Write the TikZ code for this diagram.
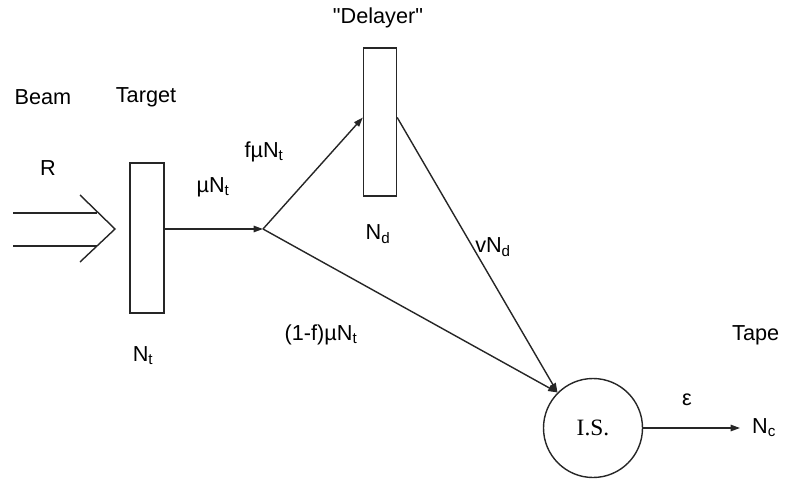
\documentclass[tikz,border=0pt]{standalone}
\usepackage{fontspec}
\setmainfont{Liberation Sans}
\newfontfamily\lblfont{Liberation Sans}
\newfontfamily\isfont{Liberation Serif}
\usepackage{tikz}
\usetikzlibrary{calc, arrows.meta, positioning}
\definecolor{lngray}{HTML}{262626}

\begin{document}
\begin{tikzpicture}[x=0.03cm, y=-0.03cm,
  lbl/.style={font=\lblfont\fontsize{18.5}{22}\selectfont, inner sep=0pt},
  slab/.style={rectangle, draw=lngray, line width=1.2pt, fill=white,
               minimum width=1.02cm},
  arr/.style={-{Triangle[length=8pt, width=5.5pt]}, line width=1.2pt, lngray},
  ln/.style={line width=1.2pt, lngray}]
\useasboundingbox (0,0) rectangle (788,478);
% target, delayer, ion source
\node[slab, minimum height=4.5cm] (tgt) at (147,238) {};
\node[slab, minimum height=4.44cm, minimum width=0.99cm] (dly) at (380,122) {};
\node[circle, draw=lngray, line width=1.2pt, minimum size=2.97cm, inner sep=0pt,
      font=\isfont\fontsize{20}{24}\selectfont] (is) at (593,428) {I.S.};
\coordinate (jn) at (263,229);
\coordinate (tape) at (740,428);
% beam
\draw[ln] (13,213) -- (97,213);
\draw[ln] (13,246) -- (97,246);
\draw[ln] (80,195) -- (115,229) -- (80,262);
% flows
\draw[arr] (tgt.east |- jn) -- (jn);
\draw[arr] (jn) -- ($(dly.north west)!0.47!(dly.south west)$);
\draw[arr] (jn) -- (is.135);
\draw[arr] ($(dly.north east)!0.47!(dly.south east)$) -- (is.135);
\draw[arr] (is.east) -- (tape);
% labels
\node[lbl] (beam) at (43,97) {Beam};
\node[lbl] (tgtl) at (146,97) {Target};
\node[lbl] (rate) at (48,168) {R};
\node[lbl] (dlyl) at (378,18) {"Delayer"};
\node[lbl] (fmu) at (264,152) {fµN\textsubscript{t}};
\node[lbl] (mu) at (213,187) {µN\textsubscript{t}};
\node[lbl] (nd) at (378,234) {N\textsubscript{d}};
\node[lbl] (vnd) at (493,247) {vN\textsubscript{d}};
\node[lbl] (nt) at (143,356) {N\textsubscript{t}};
\node[lbl] (omf) at (321,335) {(1-f)µN\textsubscript{t}};
\node[lbl, anchor=west] (tapel) at (732,335) {Tape};
\node[lbl] (eff) at (687,400) {ε};
\node[lbl, anchor=west] (nc) at (752,428) {N\textsubscript{c}};
\end{tikzpicture}
\end{document}
